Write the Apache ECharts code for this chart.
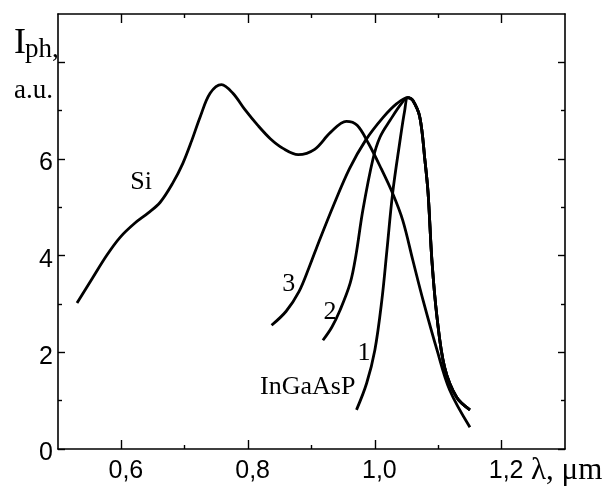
<!DOCTYPE html>
<html>
<head>
<meta charset="utf-8">
<script src="https://cdn.jsdelivr.net/npm/echarts@6/dist/echarts.min.js"></script>
<style>
  html, body { margin: 0; padding: 0; background: #fff; }
  #chart { width: 614px; height: 487px; }
</style>
</head>
<body>
<div id="chart"></div>
<script>
// tick values
const xMajorTicks = [0.6, 0.8, 1.0, 1.2];
const xMinorTicks = [0.7, 0.9, 1.1];
const yMajorTicks = [0, 2, 4, 6, 8];
const yMinorTicks = [1, 3, 5, 7];
const yLabelTicks = [0, 2, 4, 6];

// Si photodiode
const siX = [0.530, 0.555, 0.577, 0.598, 0.621, 0.642, 0.661, 0.681, 0.697, 0.711, 0.724, 0.740, 0.758, 0.776, 0.795, 0.815,
             0.835, 0.855, 0.879, 0.905, 0.930, 0.955, 0.972, 0.990, 1.010, 1.028, 1.044, 1.060, 1.076, 1.098, 1.118, 1.150];
const siY = [3.02, 3.55, 4.01, 4.38, 4.67, 4.88, 5.10, 5.50, 5.91, 6.38, 6.86, 7.36, 7.54, 7.36, 7.02, 6.70,
             6.42, 6.22, 6.09, 6.20, 6.55, 6.78, 6.70, 6.32, 5.80, 5.29, 4.73, 3.90, 3.08, 2.05, 1.22, 0.45];

// InGaAsP: common peak + long-wave side
const peakX = [1.052, 1.060, 1.071, 1.079, 1.084, 1.090, 1.098, 1.110, 1.129, 1.150];
const peakY = [7.27, 7.21, 6.86, 5.97, 5.29, 3.90, 2.73, 1.69, 1.07, 0.81];

// short-wave sides of curves 1, 2, 3
const c1X = [0.971, 0.987, 1.000, 1.011, 1.019, 1.028, 1.039, 1.047];
const c1Y = [0.81, 1.36, 2.05, 3.08, 4.11, 5.29, 6.32, 7.00];
const c2X = [0.918, 0.932, 0.945, 0.961, 0.970, 0.981, 0.997, 1.008, 1.024, 1.042];
const c2Y = [2.25, 2.52, 2.87, 3.43, 4.00, 4.94, 6.00, 6.45, 6.80, 7.15];
const c3X = [0.837, 0.860, 0.880, 0.896, 0.912, 0.935, 0.960, 0.985, 1.013, 1.035];
const c3Y = [2.56, 2.85, 3.25, 3.75, 4.30, 5.05, 5.80, 6.38, 6.86, 7.15];

// curve captions
const labelText = ['Si', '3', '2', '1', 'InGaAsP'];
const labelX = [0.631, 0.864, 0.929, 0.983, 0.894];
const labelY = [5.52, 3.41, 2.83, 1.98, 1.28];

const SANS = 'Liberation Sans';
const SERIF = 'Liberation Serif';

function pairs(xs, ys) {
  return xs.map((x, i) => [x, ys[i]]);
}

function xAxisDef(pos, ticks, len, showLine, showLabel) {
  return {
    type: 'value', position: pos, min: 0.5, max: 1.3,
    splitLine: { show: false },
    axisLine: { show: showLine, onZero: false, lineStyle: { color: '#000', width: 1.6 } },
    axisTick: { show: true, inside: true, length: len, customValues: ticks, lineStyle: { color: '#000', width: 1.4 } },
    axisLabel: {
      show: showLabel, customValues: ticks, margin: 10,
      formatter: v => '{t|' + v.toFixed(1).replace('.', ',') + '}',
      rich: { t: { color: '#000', fontFamily: SANS, fontSize: 25, padding: [0, 0, 0, 9] } }
    }
  };
}

function yAxisDef(pos, ticks, len, showLine, showLabel) {
  return {
    type: 'value', position: pos, min: 0, max: 9,
    splitLine: { show: false },
    axisLine: { show: showLine, onZero: false, lineStyle: { color: '#000', width: 1.6 } },
    axisTick: { show: true, inside: true, length: len, customValues: ticks, lineStyle: { color: '#000', width: 1.4 } },
    axisLabel: {
      show: showLabel, customValues: yLabelTicks, margin: 5,
      formatter: v => '{t|' + v + '}',
      rich: { t: { color: '#000', fontFamily: SANS, fontSize: 25, padding: [9, 0, 0, 0] } }
    }
  };
}

const curveStyle = { color: '#000', width: 2.8 };

function curve(name, data) {
  return {
    name: name, type: 'line', xAxisIndex: 0, yAxisIndex: 0,
    data: data, smooth: 0.35, showSymbol: false, symbol: 'none',
    lineStyle: curveStyle, silent: true, z: 3
  };
}

const chart = echarts.init(document.getElementById('chart'), null, { renderer: 'canvas' });

chart.setOption({
  animation: false,
  backgroundColor: '#fff',
  grid: { left: 58, right: 49, top: 14, bottom: 38 },
  xAxis: [
    xAxisDef('bottom', xMajorTicks, 9, true, true),
    xAxisDef('bottom', xMinorTicks, 4, false, false),
    xAxisDef('top', xMajorTicks, 9, true, false),
    xAxisDef('top', xMinorTicks, 4, false, false)
  ],
  yAxis: [
    yAxisDef('left', yMajorTicks, 7, true, true),
    yAxisDef('left', yMinorTicks, 4, false, false),
    yAxisDef('right', yMajorTicks, 7, true, false),
    yAxisDef('right', yMinorTicks, 4, false, false)
  ],
  series: [
    curve('Si', pairs(siX, siY)),
    curve('1', pairs(c1X, c1Y).concat(pairs(peakX, peakY))),
    curve('2', pairs(c2X, c2Y).concat(pairs(peakX, peakY))),
    curve('3', pairs(c3X, c3Y).concat(pairs(peakX, peakY))),
    {
      type: 'scatter', xAxisIndex: 0, yAxisIndex: 0, silent: true,
      symbolSize: 0,
      itemStyle: { opacity: 1 },
      data: labelX.map((x, i) => [x, labelY[i], labelText[i]]),
      label: {
        show: true, position: 'inside', color: '#000',
        textBorderWidth: 0, textBorderColor: 'transparent',
        fontFamily: SERIF, fontSize: 26,
        formatter: p => p.data[2]
      }
    }
  ],
  graphic: [
    { type: 'text', left: 14, top: 26, style: { text: 'I', font: '36px "Liberation Serif"', fill: '#000' } },
    { type: 'text', left: 25, top: 36, style: { text: 'ph,', font: '27px "Liberation Serif"', fill: '#000' } },
    { type: 'text', left: 14, top: 77, style: { text: 'a.u.', font: '27px "Liberation Serif"', fill: '#000' } },
    { type: 'text', left: 531, top: 455, style: { text: 'λ, μm', font: '31px "Liberation Serif"', fill: '#000' } }
  ]
});
</script>
</body>
</html>
